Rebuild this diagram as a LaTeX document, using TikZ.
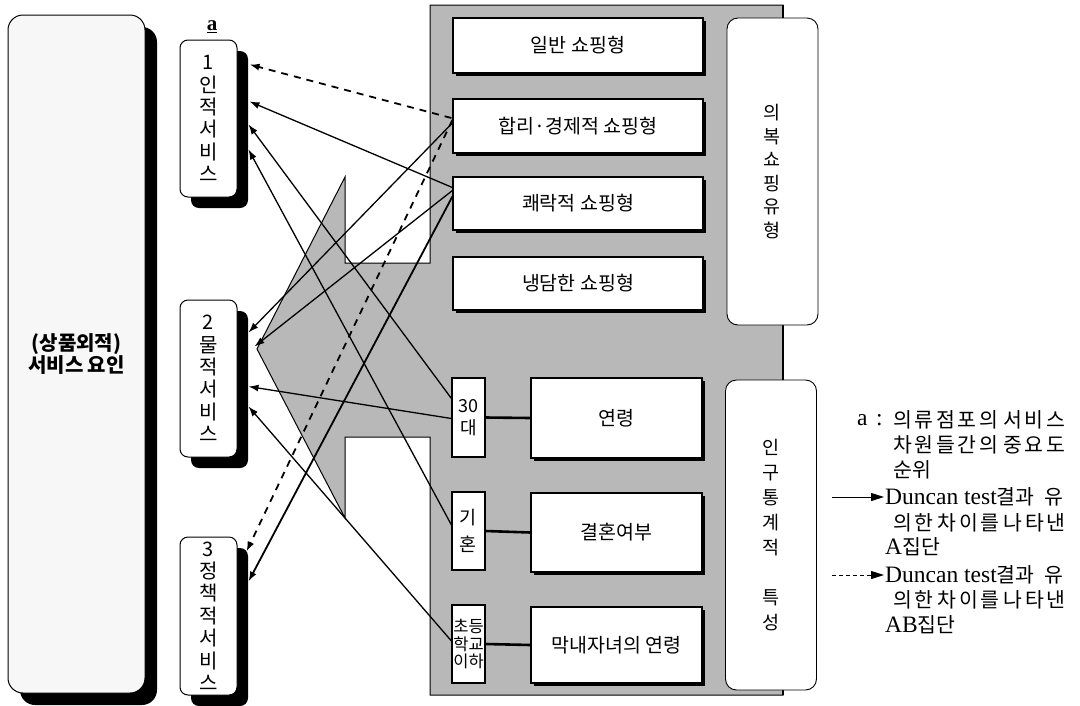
\documentclass[tikz,border=0pt]{standalone}
\usepackage{fontspec}
\setmainfont{Noto Sans CJK KR}
\newfontfamily\lat{Liberation Serif}
\usetikzlibrary{arrows.meta,shadows,calc}
\begin{document}
\begin{tikzpicture}[x=1pt,y=-1pt,
  fs/.style 2 args={font=\fontsize{#1}{#2}\selectfont},
  bigbox/.style={draw,line width=1pt,fill=gray!6,rounded corners=15pt,minimum width=137pt,minimum height=678pt,inner sep=0pt,align=center,
     drop shadow={shadow xshift=12pt,shadow yshift=-12pt,fill=black,opacity=1}},
  svcbox/.style={draw,line width=1pt,fill=white,rounded corners=8pt,minimum width=57pt,inner sep=0pt,align=center,
     drop shadow={shadow xshift=11pt,shadow yshift=-11pt,fill=black,opacity=1},fs={20}{22.4}},
  typebox/.style={draw,line width=1.2pt,fill=white,minimum width=250pt,inner sep=0pt,align=center,
     drop shadow={shadow xshift=3pt,shadow yshift=-3pt,fill=black,opacity=1},fs={19.5}{22}},
  sidebox/.style={draw,line width=0.9pt,fill=white,rounded corners=11pt,minimum width=91pt,inner sep=0pt,align=center},
  smallbox/.style={draw,line width=1.1pt,fill=white,minimum width=33pt,inner sep=0pt,align=center},
  conn/.style={line width=1.3pt,-{Latex[length=10pt,width=7pt]}},
  dconn/.style={line width=1.8pt,dash pattern=on 7pt off 6pt,-{Latex[length=10pt,width=7pt]}},
  legtxt/.style={anchor=west,inner sep=0pt,fs={20.5}{22}},
  latfont/.style={font=\lat\fontsize{23.5}{24}\selectfont}
]
\useasboundingbox (0,0) rectangle (1080,705);

% left big box
\node[bigbox,fs={20}{22}] (L) at (76.5,354) {\bfseries (상품외적)\\\bfseries 서비스 요인};

% gray panel with left-pointing arrow
\draw[line width=1pt,fill=black!28] (430,5) -- (783,5) -- (783,695) -- (430,695) -- (430,437) -- (345,437)
  -- (345,518) -- (257,349) -- (345,177) -- (345,263) -- (430,263) -- cycle;
\draw[line width=2pt] (783,5) -- (783,695);

% shopping type boxes
\node[typebox,minimum height=55pt] (t1) at (578,45.5) {일반 쇼핑형};
\node[typebox,minimum height=54pt] (t2) at (578,126) {합리·경제적 쇼핑형};
\node[typebox,minimum height=53pt] (t3) at (578,203.5) {쾌락적 쇼핑형};
\node[typebox,minimum height=53pt] (t4) at (578,283.5) {냉담한 쇼핑형};

% demographic boxes
\node[typebox,minimum width=171pt,minimum height=80pt] (D1) at (616.5,418) {연령};
\node[typebox,minimum width=171pt,minimum height=79pt] (D2) at (616.5,532.5) {결혼여부};
\node[typebox,minimum width=171pt,minimum height=76pt] (D3) at (616.5,645) {막내자녀의 연령};
\node[smallbox,minimum height=79pt,fs={18}{22}] (d1) at (468.5,417.5) {30\\대};
\node[smallbox,minimum height=78pt,fs={18.5}{27}] (d2) at (468.5,531) {기\\혼};
\node[smallbox,minimum height=78pt,fs={16.5}{17.5}] (d3) at (468.5,644) {초등\\학교\\이하};
\draw[line width=2.6pt] (d1.east) -- (D1.west);
\draw[line width=2.6pt] (d2.east) -- (D2.west);
\draw[line width=2.6pt] (d3.east) -- (D3.west);

% side boxes
\node[sidebox,minimum height=307pt,fs={18.5}{23.5}] (side1) at (772.5,171.5) {의\\복\\쇼\\핑\\유\\형};
\node[sidebox,minimum height=310pt,fs={18.5}{25}] (side2) at (771,535) {인\\구\\통\\계\\적\\[25pt]특\\성};

% service boxes
\node[svcbox,minimum height=157pt] (s1) at (208.5,118.5) {1\\인\\적\\서\\비\\스};
\node[svcbox,minimum height=157pt] (s2) at (208.5,378.5) {2\\물\\적\\서\\비\\스};
\node[svcbox,minimum height=158pt] (s3) at (208.5,616) {3\\정\\책\\적\\서\\비\\스};
\node[inner sep=0pt,font=\lat\bfseries\fontsize{21}{21}\selectfont] (alab) at (212,27) {\underline{a}};

% connectors
\draw[dconn] ($(t2.west)+(-1,-8)$) -- ($(s1.north east)+(12,25)$);
\draw[conn]  ($(t3.west)+(0,-16)$) -- ($(s1.north east)+(12,62)$);
\draw[conn]  ($(d1.west)+(0,-19)$) -- ($(s1.north east)+(11,85)$);
\draw[conn]  ($(d2.west)+(0,-6)$) -- ($(s1.north east)+(11,110)$);
\draw[conn]  ($(t2.west)+(0,-3)$) -- ($(s2.north east)+(11,33)$);
\draw[conn]  ($(t3.west)+(0,-13)$) -- ($(s2.north east)+(17,47)$);
\draw[conn]  ($(d1.west)+(0,1)$) -- ($(s2.north east)+(11,87)$);
\draw[conn]  ($(d3.west)+(0,-3)$) -- ($(s2.north east)+(11,107)$);
\draw[dconn] ($(t2.west)+(0,-6)$) -- ($(s3.north east)+(9,15)$);
\draw[conn,line width=1.8pt] ($(t3.west)+(0,-7)$) -- ($(s3.north east)+(11,45)$);

% legend
\node[anchor=west,inner sep=0pt,latfont] (la) at (857,420) {a};
\node[anchor=west,inner sep=0pt,latfont] (lc) at (876,420) {:};
\node[legtxt] (g1) at (893,420) {\hbox to 172pt{의\hfil 류\hfil 점\hfil 포\hfil 의\hfil\hfil 서\hfil 비\hfil 스}};
\node[legtxt] (g2) at (893,445) {\hbox to 172pt{차\hfil 원\hfil 들\hfil 간\hfil 의\hfil\hfil 중\hfil 요\hfil 도}};
\node[legtxt] (g3) at (893,470) {순위};
\coordinate (la1) at (832,497);
\coordinate (la2) at (884,497);
\draw[line width=1pt,-{Triangle[length=13pt,width=8pt]}] (la1) -- (la2);
\node[legtxt] (g4) at (885,497) {\hbox to 178pt{{\lat\fontsize{23.5}{24}\selectfont Duncan test}결과\hfil 유}};
\node[legtxt] (g5) at (893,523) {\hbox to 172pt{의\hfil 한\hfil\hfil 차\hfil 이\hfil 를\hfil\hfil 나\hfil 타\hfil 낸}};
\node[legtxt] (g6) at (885,547) {{\lat\fontsize{23.5}{24}\selectfont A}집단};
\coordinate (lb1) at (832,575);
\coordinate (lb2) at (884,575);
\draw[line width=1pt,dash pattern=on 4pt off 3pt,-{Triangle[length=13pt,width=8pt]}] (lb1) -- (lb2);
\node[legtxt] (g7) at (885,575) {\hbox to 178pt{{\lat\fontsize{23.5}{24}\selectfont Duncan test}결과\hfil 유}};
\node[legtxt] (g8) at (893,600) {\hbox to 172pt{의\hfil 한\hfil\hfil 차\hfil 이\hfil 를\hfil\hfil 나\hfil 타\hfil 낸}};
\node[legtxt] (g9) at (885,625) {{\lat\fontsize{23.5}{24}\selectfont AB}집단};
\end{tikzpicture}
\end{document}
